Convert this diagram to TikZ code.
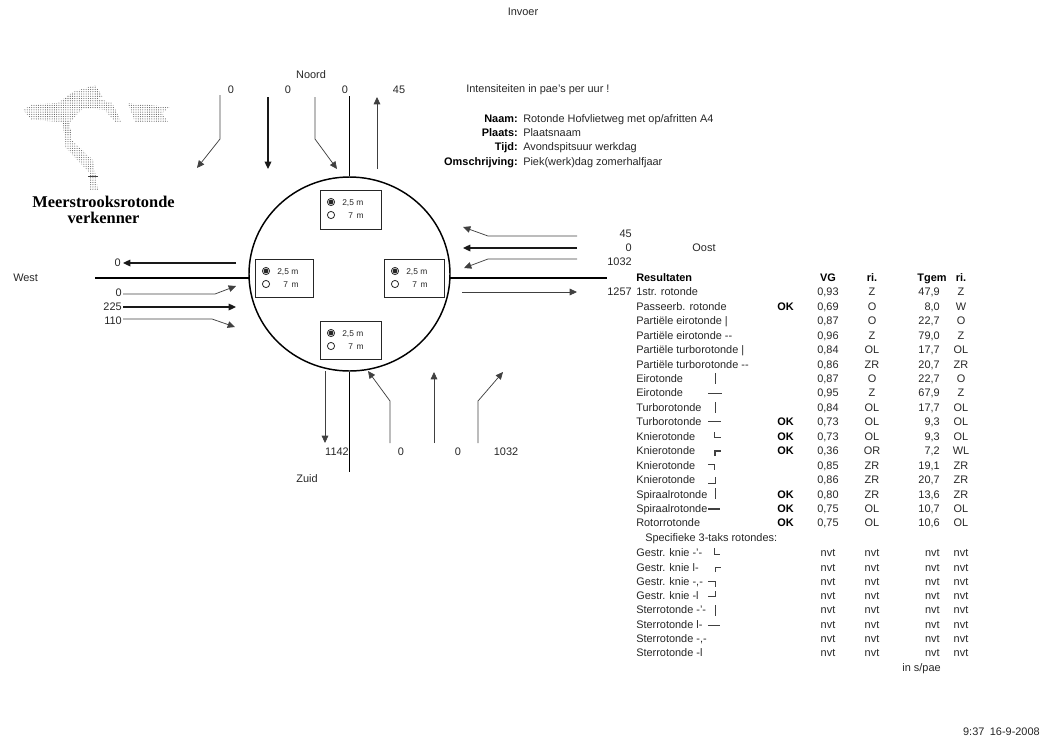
\documentclass[tikz,border=0pt]{standalone}
\usepackage{fontspec}
\setmainfont{Liberation Sans}
\newfontfamily\logofont{Liberation Serif}
\usetikzlibrary{shapes.geometric,arrows.meta,patterns.meta}
\newcount\rowc
\tikzset{
  txt/.style={inner sep=0pt,font=\fontsize{8.2}{10}\selectfont,text=black!85,yshift=-2.9pt},
  lbl/.style={txt,anchor=base},
  lft/.style={txt,anchor=base west},
  rgt/.style={txt,anchor=base east},
  bld/.style={txt,font=\fontsize{8.2}{10}\selectfont\bfseries,text=black},
  small/.style={lft,font=\fontsize{6.3}{7}\selectfont,yshift=0.7pt},
  flow/.style={draw=black!75,line width=0.55pt,-{Triangle[length=5.5pt,width=5pt]}},
  flowb/.style={flow,draw=black!90,line width=0.9pt},
  road/.style={draw=black,line width=1.3pt},
  box/.style={draw=black!85,line width=0.8pt,anchor=north west,inner sep=0pt},
  tick/.style={draw=black!75,line width=0.5pt},
  logoarea/.style={pattern={Dots[radius=0.42pt,distance=1.7pt]},pattern color=black!65,draw=none},
}
\newcommand{\radiobox}[5]{% name, x, y, w, h
  \node[box,minimum width=#4*0.75pt,minimum height=#5*0.75pt] (#1) at (#2,#3) {};
  \fill[black!85] (#2+11,#3+12) circle (2.4);
  \draw[black!85,line width=0.6pt] (#2+11,#3+12) circle (3.6);
  \draw[black!85,line width=0.6pt] (#2+11,#3+25) circle (3.6);
  \node[small] (#1a) at (#2+22,#3+13) {2,5 m};
  \node[small] (#1b) at (#2+28,#3+26) {7\, m};
}
\newcommand{\resrow}[7]{% y, name, ok, vg, ri, t, ri2
  \global\advance\rowc by 1
  \node[lft] (n\the\rowc) at (636,#1) {#2};
  \node[bld,anchor=base] (o\the\rowc) at (785.5,#1) {#3};
  \node[lbl] (v\the\rowc) at (828,#1) {#4};
  \node[lbl] (d\the\rowc) at (872,#1) {#5};
  \node[rgt] (t\the\rowc) at (940,#1) {#6};
  \node[lbl] (e\the\rowc) at (961,#1) {#7};
}
\begin{document}
\begin{tikzpicture}[x=0.75pt,y=-0.75pt]
\useasboundingbox (0,0) rectangle (1043,740);
% logo
\path[logoarea] (23,110)--(33,104)--(58,103)--(73,92)--(95,85)--(103,97)--(97,98)--(112,103)--(122,122)--(115,122)--(105,110)--(83,108)--(70,122)--(72,140)--(93,160)--(98,190)--(89,190)--(89,172)--(65,147)--(63,122)--(32,120)--cycle;
\path[logoarea] (128,103)--(170,107)--(162,113)--(168,122)--(135,122)--cycle;
\coordinate (lt1) at (88,176); \coordinate (lt2) at (98,176);
\draw[tick] (lt1) -- (lt2);
\node[inner sep=0pt,align=center,font=\logofont\bfseries\fontsize{12.3}{12.2}\selectfont] (logo) at (103.5,210) {Meerstrooksrotonde\\verkenner};
% headings
\node[lbl] (invoer) at (523,12) {Invoer};
\node[lbl] (noord) at (311,75) {Noord};
\node[lbl] (zuid) at (307,479) {Zuid};
\node[lft] (west) at (13,278) {West};
\node[lbl] (oost) at (704,248) {Oost};
\node[lft] (intens) at (466,89) {Intensiteiten in pae's per uur !};
\foreach \nm/\yy/\k/\v in {naam/119/Naam:/Rotonde Hofvlietweg met op\slash afritten A4,plaats/133/Plaats:/Plaatsnaam,tijd/147/Tijd:/Avondspitsuur werkdag,oms/162/Omschrijving:/Piek(werk)dag zomerhalfjaar}{
  \node[bld,anchor=base east] (\nm k) at (518,\yy) {\k};
  \node[lft] (\nm v) at (523,\yy) {\v};
}
\node[rgt] (stamp) at (1040,732) {9:37\enspace 16-9-2008};
% circle and roads
\node[ellipse,draw=black,line width=1.1pt,minimum width=201*0.75pt,minimum height=194*0.75pt,inner sep=0pt] (ring) at (349.5,274) {};
\coordinate (rn) at (349.5,96);
\coordinate (rs) at (349.5,472);
\coordinate (rw) at (95,278);
\coordinate (re) at (607,278);
\coordinate (rwi) at (249,278);
\coordinate (rei) at (450,278);
\draw[road] (ring.north) -- (rn);
\draw[road] (ring.south) -- (rs);
\draw[road] (rwi) -- (rw);
\draw[road] (rei) -- (re);
\radiobox{bn}{320}{190}{61}{39}
\radiobox{bw}{255}{259}{58}{38}
\radiobox{be}{384}{259}{60}{38}
\radiobox{bs}{320}{321}{61}{38}
% north flows
\coordinate (n1a) at (220,95); \coordinate (n1b) at (220,139); \coordinate (n1c) at (197,168);
\coordinate (n2a) at (268,97); \coordinate (n2c) at (268,169);
\coordinate (n3a) at (315,97); \coordinate (n3b) at (315,139); \coordinate (n3c) at (337,169);
\coordinate (n4a) at (377,169); \coordinate (n4c) at (377,97);
\draw[flow] (n1a) -- (n1b) -- (n1c);
\draw[flowb] (n2a) -- (n2c);
\draw[flow] (n3a) -- (n3b) -- (n3c);
\draw[flow] (n4a) -- (n4c);
\node[lbl] (nl1) at (231,90) {0};
\node[lbl] (nl2) at (288,90) {0};
\node[lbl] (nl3) at (345,90) {0};
\node[lbl] (nl4) at (399,90) {45};
% west flows
\node[rgt] (wl0) at (121,263) {0};
\node[rgt] (wl1) at (122,293) {0};
\node[rgt] (wl2) at (122,307) {225};
\node[rgt] (wl3) at (122,321) {110};
\coordinate (w0a) at (236,263); \coordinate (w0c) at (123,263);
\coordinate (w1a) at (123,294); \coordinate (w1b) at (215,294); \coordinate (w1c) at (236,286);
\coordinate (w2a) at (123,307); \coordinate (w2c) at (236,307);
\coordinate (w3a) at (123,319); \coordinate (w3b) at (212,319); \coordinate (w3c) at (235,327);
\draw[flowb] (w0a) -- (w0c);
\draw[flow] (w1a) -- (w1b) -- (w1c);
\draw[flowb] (w2a) -- (w2c);
\draw[flow] (w3a) -- (w3b) -- (w3c);
% east flows
\node[rgt] (el1) at (632,234) {45};
\node[rgt] (el2) at (632,248) {0};
\node[rgt] (el3) at (632,262) {1032};
\node[rgt] (el4) at (632,292) {1257};
\coordinate (e1a) at (577,236); \coordinate (e1b) at (488,236); \coordinate (e1c) at (463,227);
\coordinate (e2a) at (577,248); \coordinate (e2c) at (463,248);
\coordinate (e3a) at (577,259); \coordinate (e3b) at (488,259); \coordinate (e3c) at (464,268);
\coordinate (e4a) at (462,292); \coordinate (e4c) at (577,292);
\draw[flow] (e1a) -- (e1b) -- (e1c);
\draw[flowb] (e2a) -- (e2c);
\draw[flow] (e3a) -- (e3b) -- (e3c);
\draw[flow] (e4a) -- (e4c);
% south flows
\node[lbl] (sl1) at (337,452) {1142};
\node[lbl] (sl2) at (401,452) {0};
\node[lbl] (sl3) at (458,452) {0};
\node[lbl] (sl4) at (506,452) {1032};
\coordinate (s1a) at (325,371); \coordinate (s1c) at (325,443);
\coordinate (s2a) at (390,443); \coordinate (s2b) at (390,401); \coordinate (s2c) at (368,371);
\coordinate (s3a) at (434,443); \coordinate (s3c) at (434,372);
\coordinate (s4a) at (478,443); \coordinate (s4b) at (478,401); \coordinate (s4c) at (503,372);
\draw[flow] (s1a) -- (s1c);
\draw[flow] (s2a) -- (s2b) -- (s2c);
\draw[flow] (s3a) -- (s3c);
\draw[flow] (s4a) -- (s4b) -- (s4c);
% table
\node[bld,anchor=base west] (hres) at (636,278) {Resultaten};
\node[bld,anchor=base] (hvg) at (828,278) {VG};
\node[bld,anchor=base] (hri) at (872,278) {ri.};
\node[bld,anchor=base] (htg) at (932,278) {Tgem};
\node[bld,anchor=base] (hrj) at (961,278) {ri.};
\resrow{292}{1str. rotonde}{}{0,93}{Z}{47,9}{Z}
\resrow{306.4}{Passeerb. rotonde}{OK}{0,69}{O}{8,0}{W}
\resrow{320.9}{Partiële eirotonde |}{}{0,87}{O}{22,7}{O}
\resrow{335.3}{Partiële eirotonde -{}-}{}{0,96}{Z}{79,0}{Z}
\resrow{349.8}{Partiële turborotonde |}{}{0,84}{OL}{17,7}{OL}
\resrow{364.2}{Partiële turborotonde -{}-}{}{0,86}{ZR}{20,7}{ZR}
\resrow{378.6}{Eirotonde}{}{0,87}{O}{22,7}{O}
\resrow{393.1}{Eirotonde}{}{0,95}{Z}{67,9}{Z}
\resrow{407.5}{Turborotonde}{}{0,84}{OL}{17,7}{OL}
\resrow{422}{Turborotonde}{OK}{0,73}{OL}{9,3}{OL}
\resrow{436.4}{Knierotonde}{OK}{0,73}{OL}{9,3}{OL}
\resrow{450.8}{Knierotonde}{OK}{0,36}{OR}{7,2}{WL}
\resrow{465.3}{Knierotonde}{}{0,85}{ZR}{19,1}{ZR}
\resrow{479.7}{Knierotonde}{}{0,86}{ZR}{20,7}{ZR}
\resrow{494.2}{Spiraalrotonde}{OK}{0,80}{ZR}{13,6}{ZR}
\resrow{508.6}{Spiraalrotonde}{OK}{0,75}{OL}{10,7}{OL}
\resrow{523}{Rotorrotonde}{OK}{0,75}{OL}{10,6}{OL}
\node[lft] (spec) at (645,538) {Specifieke 3-taks rotondes:};
\resrow{553}{Gestr. knie -'-}{}{nvt}{nvt}{nvt}{nvt}
\resrow{567.3}{Gestr. knie l-}{}{nvt}{nvt}{nvt}{nvt}
\resrow{581.6}{Gestr. knie -,-}{}{nvt}{nvt}{nvt}{nvt}
\resrow{595.9}{Gestr. knie -l}{}{nvt}{nvt}{nvt}{nvt}
\resrow{610.1}{Sterrotonde -'-}{}{nvt}{nvt}{nvt}{nvt}
\resrow{624.4}{Sterrotonde l-}{}{nvt}{nvt}{nvt}{nvt}
\resrow{638.7}{Sterrotonde -,-}{}{nvt}{nvt}{nvt}{nvt}
\resrow{653}{Sterrotonde -l}{}{nvt}{nvt}{nvt}{nvt}
\node[rgt] (unit) at (941,668) {in s/pae};
% road-shape ticks
\draw[tick] (715,373)--(715,384);
\draw[tick] (708,393)--(722,393);
\draw[tick] (715,402)--(715,413);
\draw[tick] (708,421)--(721,421);
\draw[tick] (714,432)--(714,437)--(721,437);
\draw[tick,line width=0.8pt] (715,456)--(715,451)--(721,451);
\draw[tick] (708,464)--(714,464)--(714,470);
\draw[tick] (708,483)--(715,483)--(715,477);
\draw[tick] (715,488)--(715,499);
\draw[tick,line width=0.9pt] (708,509)--(720,509);
\draw[tick] (714,548)--(714,554)--(720,554);
\draw[tick] (715,572)--(715,567)--(721,567);
\draw[tick] (708,581)--(715,581)--(715,587);
\draw[tick] (708,596)--(715,596)--(715,591);
\draw[tick] (715,605)--(715,616);
\draw[tick] (708,625)--(720,625);
\end{tikzpicture}
\end{document}
